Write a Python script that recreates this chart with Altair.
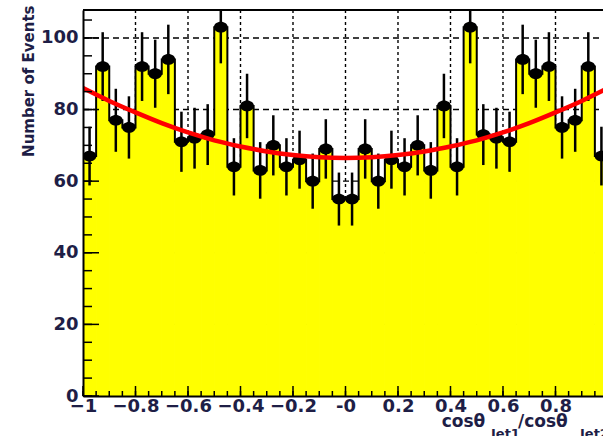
import altair as alt
import pandas as pd

# ---------------- data ----------------
bin_width = 0.05
left_counts = [67, 92, 77, 75, 92, 90, 94, 71, 72, 73, 103, 64, 81, 63, 70, 64, 66, 60, 69, 55]
counts = left_counts + left_counts[::-1]
left_errors = [8.2, 9.6, 8.8, 8.7, 9.6, 9.5, 9.7, 8.4, 8.5, 8.5, 10.1, 8.0, 9.0, 7.9, 8.4, 8.0, 8.1, 7.7, 8.3, 7.4]
errors = left_errors + left_errors[::-1]

fit_x = [-1.0, -0.9, -0.8, -0.7, -0.6, -0.5, -0.4, -0.3, -0.2, -0.1, 0.0,
         0.1, 0.2, 0.3, 0.4, 0.5, 0.6, 0.7, 0.8, 0.9, 1.0]
fit_left = [86.0, 82.4, 79.2, 76.2, 73.6, 71.4, 69.7, 68.3, 67.3, 66.7]
fit_y = fit_left + [66.5] + fit_left[::-1]

x_tick_values = [-1.0, -0.8, -0.6, -0.4, -0.2, 0.0, 0.2, 0.4, 0.6, 0.8]
x_grid_values = [-0.8, -0.6, -0.4, -0.2, 0.0, 0.2, 0.4, 0.6, 0.8]
x_minor_values = [round(-1 + 0.05 * i, 2) for i in range(40)]
y_tick_values = [0, 20, 40, 60, 80, 100]
y_grid_values = [20, 40, 60, 80, 100]
y_minor_values = [5 * i for i in range(22)]

# ---------------- layout ----------------
W, H = 520, 386
X_MIN, X_MAX = -1.0, 0.981
Y_MAX = 107.8
LABEL_COLOR = "#1e1e46"
FONT = "DejaVu Sans"

lo = [round(-1 + bin_width * i, 3) for i in range(len(counts))]
hi = [round(v + bin_width, 3) for v in lo]
bins = pd.DataFrame({
    "lo": lo, "hi": hi, "center": [(a + b) / 2 for a, b in zip(lo, hi)],
    "count": counts,
    "elo": [c - e for c, e in zip(counts, errors)],
    "ehi": [c + e for c, e in zip(counts, errors)],
})
step = pd.DataFrame({"x": lo + [hi[-1]], "y": counts + [counts[-1]]})
fit = pd.DataFrame({"x": fit_x, "y": fit_y})

xs = alt.Scale(domain=[X_MIN, X_MAX], nice=False, zero=False)
ys = alt.Scale(domain=[0, Y_MAX], nice=False, zero=False)

x_axis = alt.Axis(values=x_tick_values, labelExpr="datum.value == 0 ? '-0' : format(datum.value, '.1~f')",
                  labelFont=FONT, labelFontWeight="bold", labelFontSize=18, labelColor=LABEL_COLOR,
                  labelPadding=1, labelFlush=False, labelOverlap=False, ticks=False, grid=False,
                  domain=True, domainColor="black", domainWidth=2, title=None, zindex=1)
y_axis = alt.Axis(values=y_tick_values, labelFont=FONT, labelFontWeight="bold", labelFontSize=18,
                  labelColor=LABEL_COLOR, labelPadding=5, ticks=False, grid=False,
                  domain=True, domainColor="black", domainWidth=2,
                  title="Number of Events", titleFont=FONT, titleFontWeight="bold", titleFontSize=15,
                  titleColor=LABEL_COLOR, titleAngle=270, titleX=-50, titleY=-5,
                  titleAlign="right", titleBaseline="alphabetic", zindex=1)


def X(f):
    return alt.X(f, scale=xs, axis=x_axis)


def Y(f):
    return alt.Y(f, scale=ys, axis=y_axis)


hgrid = alt.Chart(pd.DataFrame({"v": y_grid_values})).mark_rule(
    color="black", strokeWidth=1.4, strokeDash=[6, 4]).encode(
    y=Y("v:Q"), x=alt.value(0), x2=alt.value(W))
vgrid = alt.Chart(pd.DataFrame({"v": x_grid_values})).mark_rule(
    color="black", strokeWidth=1.4, strokeDash=[3, 3]).encode(
    x=X("v:Q"), y=alt.value(0), y2=alt.value(H))

bars = alt.Chart(bins).mark_rect(color="#ffff00", stroke="#ffff00", strokeWidth=1, clip=True).encode(
    x=X("lo:Q"), x2="hi:Q", y=Y("count:Q"), y2=alt.datum(0))

outline = alt.Chart(step).mark_line(color="black", strokeWidth=2, interpolate="step-after", clip=True).encode(
    x=X("x:Q"), y=Y("y:Q"))

errbars = alt.Chart(bins).mark_rule(color="black", strokeWidth=2.5, clip=True).encode(
    x=X("center:Q"), y=Y("elo:Q"), y2="ehi:Q")

k = 0.5523
r = 0.78
ellipse = (f"M-1,0 C-1,{-k*r:.4f} {-k:.4f},{-r} 0,{-r} C{k:.4f},{-r} 1,{-k*r:.4f} 1,0 "
           f"C1,{k*r:.4f} {k:.4f},{r} 0,{r} C{-k:.4f},{r} -1,{k*r:.4f} -1,0 Z")
markers = alt.Chart(bins).mark_point(shape=ellipse, filled=True, color="black", opacity=1,
                                     size=190, clip=True).encode(
    x=X("center:Q"), y=Y("count:Q"))

fitline = alt.Chart(fit).mark_line(color="#ff0000", strokeWidth=4.5, interpolate="monotone", clip=True).encode(
    x=X("x:Q"), y=Y("y:Q"))

x_major = alt.Chart(pd.DataFrame({"v": x_tick_values})).mark_rule(color="black", strokeWidth=1.5).encode(
    x=X("v:Q"), y=alt.value(H), y2=alt.value(H - 10))
x_minor = alt.Chart(pd.DataFrame({"v": x_minor_values})).mark_rule(color="black", strokeWidth=1.5).encode(
    x=X("v:Q"), y=alt.value(H), y2=alt.value(H - 5))
y_minor = alt.Chart(pd.DataFrame({"v": y_minor_values})).mark_rule(color="black", strokeWidth=1.5).encode(
    y=Y("v:Q"), x=alt.value(0), x2=alt.value(9))
y_major = alt.Chart(pd.DataFrame({"v": y_tick_values})).mark_rule(color="black", strokeWidth=1.5).encode(
    y=Y("v:Q"), x=alt.value(0), x2=alt.value(16))
top_frame = alt.Chart(pd.DataFrame({"v": [Y_MAX]})).mark_rule(color="black", strokeWidth=2).encode(
    y=Y("v:Q"), x=alt.value(0), x2=alt.value(W))

one = pd.DataFrame({"a": [0]})


def txt(s, px, py, fs):
    return alt.Chart(one).mark_text(text=s, font=FONT, fontWeight="bold", fontSize=fs,
                                    color=LABEL_COLOR, align="left", baseline="alphabetic").encode(
        x=alt.value(px), y=alt.value(py))


title_parts = [txt("cosθ", 358.7, 417, 17), txt("Jet1", 408, 428, 13),
               txt("/cosθ", 435, 417, 17), txt("Jet2", 497, 428, 13)]

chart = alt.layer(hgrid, vgrid, bars, outline, errbars, markers, fitline,
                  x_major, x_minor, y_minor, y_major, top_frame, *title_parts).properties(
    width=W, height=H,
    autosize=alt.AutoSizeParams(type="none"),
    padding={"left": 83, "top": 10, "right": 0, "bottom": 40},
).configure_view(strokeWidth=0).configure(background="white")

chart.save("out.html", embed_options={"renderer": "svg", "actions": False})
